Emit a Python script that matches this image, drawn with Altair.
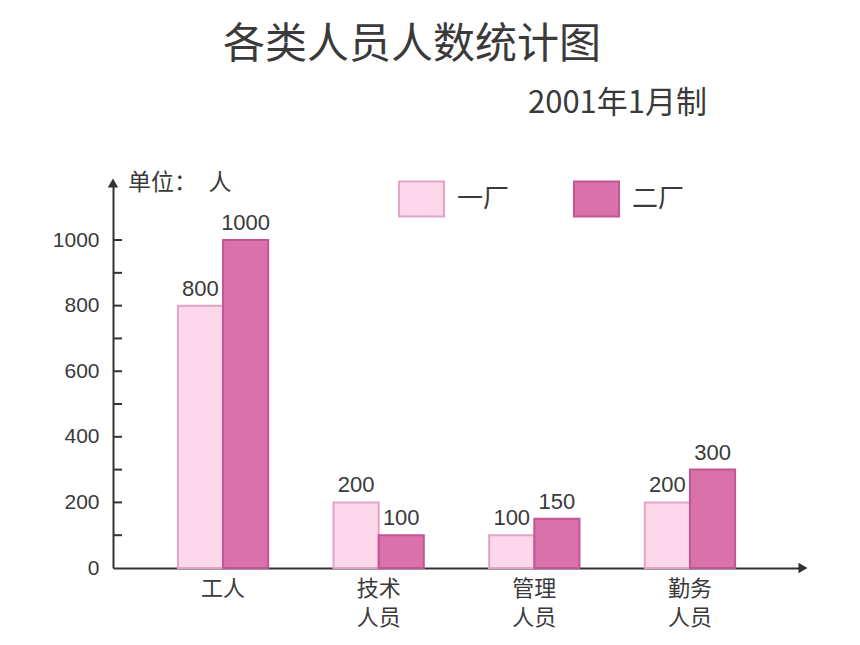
import altair as alt
import pandas as pd

categories = ["工人", "技术人员", "管理人员", "勤务人员"]
factories = ["一厂", "二厂"]
plant1 = [800, 200, 100, 200]
plant2 = [1000, 100, 150, 300]
minor_ticks = [100, 200, 300, 400, 500, 600, 700, 800, 900, 1000]
label_ticks = [0, 200, 400, 600, 800, 1000]

rows = []
for c, a, b in zip(categories, plant1, plant2):
    rows.append({"类别": c, "厂": factories[0], "人数": a})
    rows.append({"类别": c, "厂": factories[1], "人数": b})
df = pd.DataFrame(rows)

FONT = "Noto Sans CJK SC"
TXT = "#3a3a3a"
W, H = 687, 387

xenc = alt.X("类别:N", sort=categories,
             scale=alt.Scale(paddingInner=0.42, paddingOuter=0.417),
             axis=alt.Axis(title=None, labelAngle=0, ticks=False, domainColor="#333",
                           domainWidth=2, labelFontSize=22, labelColor=TXT, labelFont=FONT,
                           labelPadding=10, labelLineHeight=29,
                           labelExpr="length(datum.label) > 2 ? [substring(datum.label,0,2), substring(datum.label,2)] : datum.label"))
yaxis = alt.Axis(title=None, values=label_ticks, ticks=False, grid=False, format="d",
                 domainColor="#333", domainWidth=2, labelFontSize=21,
                 labelColor=TXT, labelFont="Liberation Sans", labelPadding=14)
yscale = alt.Scale(domain=[0, 1180], nice=False)
yenc = alt.Y("人数:Q", scale=yscale, axis=yaxis)
xoff = alt.XOffset("厂:N", sort=factories, scale=alt.Scale(paddingInner=0, paddingOuter=0))

legend = alt.Legend(title=None, orient="none", legendX=285, legendY=-6,
                    direction="horizontal",
                    symbolType="M-1,-0.78H1V0.78H-1Z", symbolSize=2025,
                    symbolStrokeWidth=2, labelFontSize=26, labelFont=FONT,
                    labelColor=TXT, labelOffset=12, columnPadding=60, padding=0)

base = alt.Chart(df)
bars = base.mark_bar(strokeWidth=2).encode(
    x=xenc, y=yenc, xOffset=xoff,
    fill=alt.Fill("厂:N", sort=factories,
                  scale=alt.Scale(domain=factories, range=["#fdd7ea", "#d972ab"]),
                  legend=legend),
    stroke=alt.Stroke("厂:N", sort=factories,
                      scale=alt.Scale(domain=factories, range=["#e3a3c7", "#c45593"]),
                      legend=legend),
)
labels = base.mark_text(baseline="bottom", dy=-5, fontSize=22, font="Liberation Sans",
                        color=TXT).encode(
    x=xenc, y=yenc, xOffset=xoff, text=alt.Text("人数:Q"))

ticks = alt.Chart(pd.DataFrame({"人数": minor_ticks})).mark_rule(color="#333", strokeWidth=2).encode(
    y=yenc, x=alt.value(0), x2=alt.value(9))

one = pd.DataFrame({"a": [0]})
up_arrow = alt.Chart(one).mark_point(shape="triangle-up", filled=True, color="#333", size=110,
                                     opacity=1).encode(
    x=alt.value(0), y=alt.value(2))
right_arrow = alt.Chart(one).mark_point(shape="triangle-right", filled=True, color="#333", size=110,
                                        opacity=1).encode(
    x=alt.value(W + 3), y=alt.value(H))

title = alt.Chart(one).mark_text(text="各类人员人数统计图", fontSize=42, font=FONT, color=TXT,
                                 align="center", baseline="middle").encode(
    x=alt.value(299), y=alt.value(-136))
subtitle = alt.Chart(one).mark_text(text="2001年1月制", fontSize=31, font=FONT, color=TXT,
                                    align="right", baseline="middle").encode(
    x=alt.value(594), y=alt.value(-77))
unit = alt.Chart(one).mark_text(text="单位：　人", fontSize=23, font=FONT, color=TXT,
                                align="left", baseline="middle").encode(
    x=alt.value(15), y=alt.value(2))

chart = alt.layer(bars, labels, ticks, up_arrow, right_arrow, title, subtitle, unit).properties(
    width=W, height=H,
    autosize=alt.AutoSizeParams(type="none"),
    padding={"left": 105, "top": 173, "right": 52, "bottom": 69},
).configure_view(stroke=None)

chart.save("out.html", embed_options={"renderer": "svg", "actions": False})
